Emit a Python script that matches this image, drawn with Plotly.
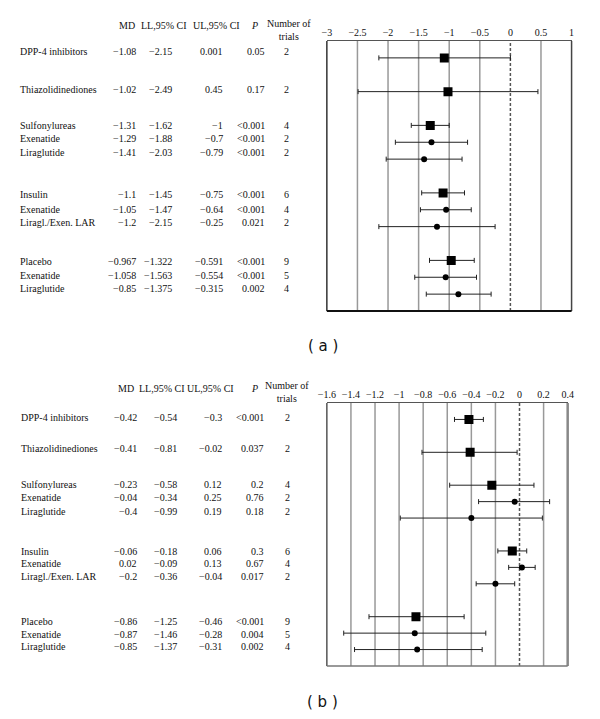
import plotly.graph_objects as go

# ---------------- data ----------------
labels = ["DPP-4 inhibitors", "Thiazolidinediones", "Sulfonylureas", "Exenatide", "Liraglutide",
          "Insulin", "Exenatide", "Liragl./Exen. LAR", "Placebo", "Exenatide", "Liraglutide"]
is_summary = [True, True, True, False, False, True, False, False, True, False, False]
trials = [2, 2, 4, 2, 2, 6, 4, 2, 9, 5, 4]

a_md = [-1.08, -1.02, -1.31, -1.29, -1.41, -1.1, -1.05, -1.2, -0.967, -1.058, -0.85]
a_ll = [-2.15, -2.49, -1.62, -1.88, -2.03, -1.45, -1.47, -2.15, -1.322, -1.563, -1.375]
a_ul = [0.001, 0.45, -1, -0.7, -0.79, -0.75, -0.64, -0.25, -0.591, -0.554, -0.315]
a_p = ["0.05", "0.17", "<0.001", "<0.001", "<0.001", "<0.001", "<0.001", "0.021", "<0.001", "<0.001", "0.002"]

b_md = [-0.42, -0.41, -0.23, -0.04, -0.4, -0.06, 0.02, -0.2, -0.86, -0.87, -0.85]
b_ll = [-0.54, -0.81, -0.58, -0.34, -0.99, -0.18, -0.09, -0.36, -1.25, -1.46, -1.37]
b_ul = [-0.3, -0.02, 0.12, 0.25, 0.19, 0.06, 0.13, -0.04, -0.46, -0.28, -0.31]
b_p = ["<0.001", "0.037", "0.2", "0.76", "0.18", "0.3", "0.67", "0.017", "<0.001", "0.004", "0.002"]

a_ticks = [-3, -2.5, -2, -1.5, -1, -0.5, 0, 0.5, 1]
b_ticks = [-1.6, -1.4, -1.2, -1, -0.8, -0.6, -0.4, -0.2, 0, 0.2, 0.4]
headers = ["MD", "LL,95% CI", "UL,95% CI", "P"]

# ---------------- layout constants ----------------
W, H = 600, 719
slots = [1, 3, 5, 6, 7, 9, 10, 11, 13, 14, 15]   # row slot within a 16-slot panel
SERIF = "Liberation Serif"
FS = 10

def py(px):
    return 1 - px / H

def px_x(px):
    return px / W

def fmt(v):
    return str(v).replace("-", "\u2212")

def tick_txt(v):
    s = ("%g" % v)
    return s.replace("-", "\u2212")

panels = [
    dict(md=a_md, ll=a_ll, ul=a_ul, p=a_p, ticks=a_ticks, rng=[-3, 1],
         box=(326, 577, 41, 311), text_y=[52, 90, 125, 138, 153, 194, 209, 222, 261, 275, 288],
         cols=(10, 131, 168, 221, 264, 285), hdr_x=(130, 158.5, 212.5, 252, 287), hdr_y=30,
         tag="( a )", tag_pos=(322, 346), xa="x", ya="y",
         left="#333", right="#444", top="#555", bottom=("#111", 2)),
    dict(md=b_md, ll=b_ll, ul=b_ul, p=b_p, ticks=b_ticks, rng=[-1.6, 0.4],
         box=(326, 573, 403, 666), text_y=[417, 448, 484, 497, 511, 551, 563, 576, 621, 634, 646],
         cols=(11, 132, 173, 220, 263, 286), hdr_x=(129, 156.5, 207, 252, 285), hdr_y=392,
         tag="( b )", tag_pos=(322, 702), xa="x2", ya="y2",
         left="#555", right="#888", top="#555", bottom=("#777", 1.5)),
]

fig = go.Figure()
annotations = []
shapes = []

for k, P in enumerate(panels):
    xa, ya = P["xa"], P["ya"]
    x0, x1, y0, y1 = P["box"]
    sfx = "" if k == 0 else "2"
    # error bars + markers
    for grp, sym, size in [(True, "square", 9), (False, "circle", 6)]:
        idx = [i for i in range(len(labels)) if is_summary[i] == grp]
        fig.add_trace(go.Scatter(
            x=[P["md"][i] for i in idx],
            y=[slots[i] for i in idx],
            mode="markers",
            marker=dict(symbol=sym, size=size, color="black", line=dict(width=0)),
            error_x=dict(type="data", symmetric=False,
                         array=[P["ul"][i] - P["md"][i] for i in idx],
                         arrayminus=[P["md"][i] - P["ll"][i] for i in idx],
                         color="#222", thickness=1, width=2.5),
            xaxis=xa, yaxis=ya, showlegend=False, hoverinfo="skip"))

    fig.update_layout(**{
        "xaxis" + sfx: dict(domain=[px_x(x0), px_x(x1)], range=P["rng"], side="top",
                            tickvals=P["ticks"], ticktext=[tick_txt(t) for t in P["ticks"]],
                            showgrid=False, zeroline=False, ticks="", ticklen=0,
                            showline=True, linecolor=P["top"], linewidth=1,
                            tickfont=dict(family=SERIF, size=FS, color="#111"),
                            anchor=ya, fixedrange=True),
        "yaxis" + sfx: dict(domain=[py(y1), py(y0)], range=[16, 0], showticklabels=False,
                            showgrid=False, zeroline=False, ticks="",
                            showline=False, anchor=xa, fixedrange=True),
    })
    # gridlines (exclude 0 which is dashed)
    for t in P["ticks"][1:-1]:
        if t == 0:
            continue
        shapes.append(dict(type="line", xref=xa, yref=ya + " domain", x0=t, x1=t, y0=0, y1=1,
                           line=dict(color="#999", width=1.5), layer="below"))
    shapes.append(dict(type="line", xref=xa, yref=ya + " domain", x0=0, x1=0, y0=0, y1=1,
                       line=dict(color="#555", width=1.5, dash="3px,2px"), layer="below"))
    # box borders
    shapes.append(dict(type="line", xref=xa + " domain", yref=ya + " domain", x0=0, x1=0, y0=0, y1=1,
                       line=dict(color=P["left"], width=1.5)))
    shapes.append(dict(type="line", xref=xa + " domain", yref=ya + " domain", x0=1, x1=1, y0=0, y1=1,
                       line=dict(color=P["right"], width=1.5 if k == 0 else 2.5)))
    shapes.append(dict(type="line", xref=xa + " domain", yref=ya + " domain", x0=0, x1=1, y0=0, y1=0,
                       line=dict(color=P["bottom"][0], width=P["bottom"][1])))

    # table header
    hx = P["hdr_x"]
    hy0 = P["hdr_y"] - 4
    for j, h in enumerate(headers):
        txt = "<i>P</i>" if h == "P" else h
        anc = "right" if j == 0 else "center"
        annotations.append(dict(x=px_x(hx[j]), y=py(hy0), xref="paper", yref="paper", text=txt,
                                showarrow=False, xanchor=anc, yanchor="middle", borderpad=0,
                                font=dict(family=SERIF, size=FS, color="#111")))
    annotations.append(dict(x=px_x(hx[4]), y=py(P["hdr_y"]), xref="paper", yref="paper",
                            text="Number of<br>trials", align="center",
                            showarrow=False, xanchor="center", yanchor="middle", borderpad=0,
                            font=dict(family=SERIF, size=FS, color="#111")))
    # table rows
    c = P["cols"]
    for i, lab in enumerate(labels):
        yy = py(P["text_y"][i])
        cells = [(lab, c[0], "left"), (fmt(P["md"][i]), c[1], "right"), (fmt(P["ll"][i]), c[2], "right"),
                 (fmt(P["ul"][i]), c[3], "right"), (P["p"][i].replace("<", "&lt;"), c[4], "right"),
                 (str(trials[i]), c[5], "center")]
        for txt, xx, anc in cells:
            annotations.append(dict(x=px_x(xx), y=yy, xref="paper", yref="paper", text=txt,
                                    showarrow=False, xanchor=anc, yanchor="middle", borderpad=0,
                                    font=dict(family=SERIF, size=FS, color="#111")))
    # panel tag
    annotations.append(dict(x=px_x(P["tag_pos"][0]), y=py(P["tag_pos"][1]), xref="paper", yref="paper",
                            text=P["tag"], showarrow=False, xanchor="center", yanchor="middle",
                            font=dict(family="DejaVu Sans", size=15, color="#111")))

fig.update_layout(width=W, height=H, autosize=False, margin=dict(l=0, r=0, t=0, b=0),
                  paper_bgcolor="white", plot_bgcolor="white",
                  annotations=annotations, shapes=shapes)

fig.write_html("out.html", config={"displayModeBar": False},
               post_script="document.body.style.margin='0';")
